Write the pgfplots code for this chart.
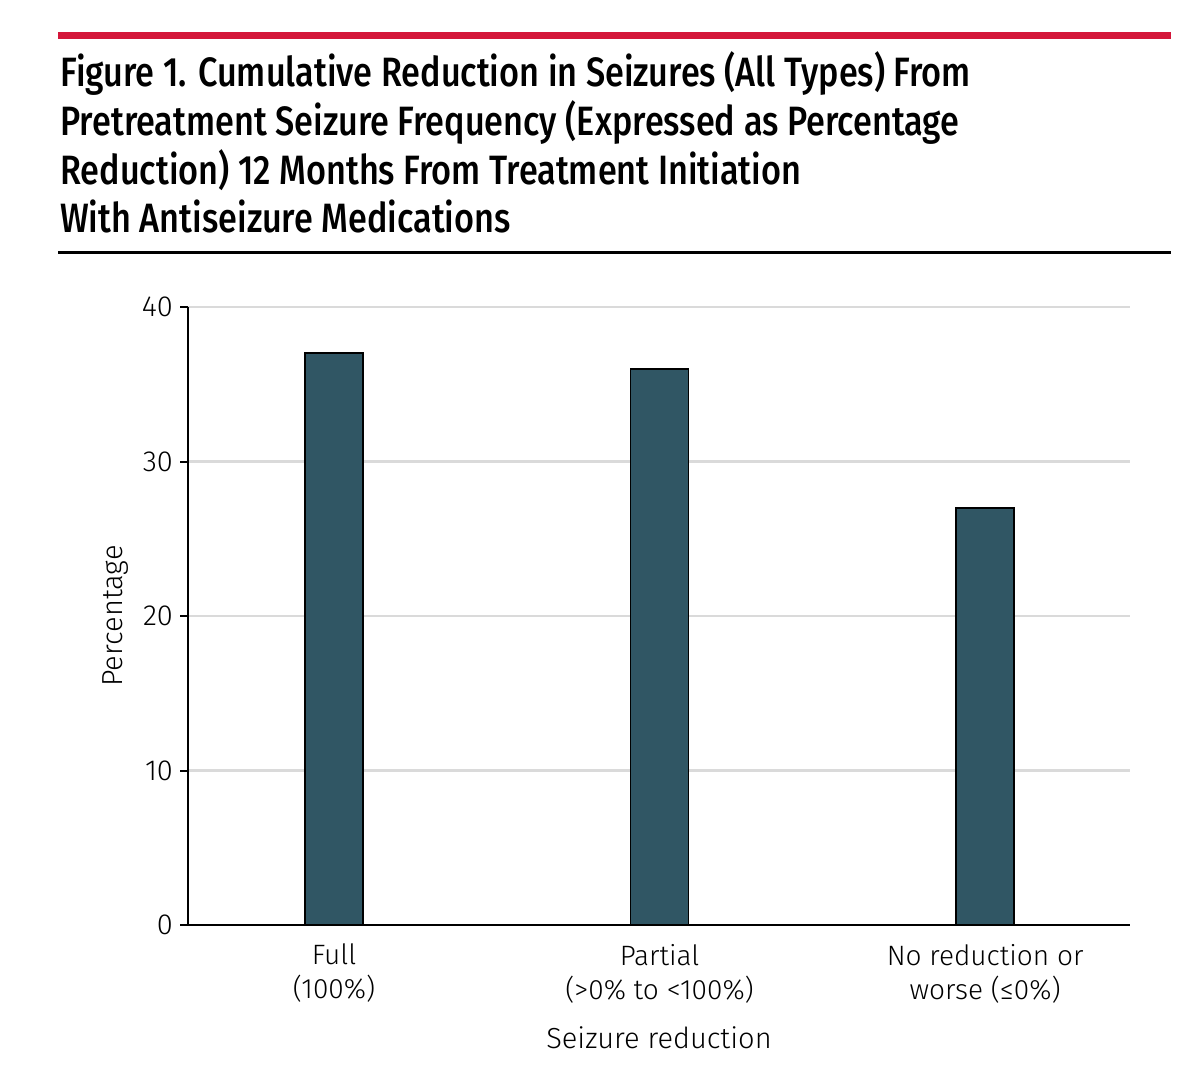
\documentclass[border=0pt]{standalone}
\usepackage{pgfplots}
\pgfplotsset{compat=1.18}
\usepackage{fontspec}
\setmainfont{Fira Sans Light}
\newfontfamily\titlefont{Fira Sans Medium}
\definecolor{barc}{HTML}{305664}
\definecolor{jred}{HTML}{D4163A}
\definecolor{gridc}{HTML}{DADADA}
\begin{document}
\begin{tikzpicture}
\path[use as bounding box] (0pt,0pt) rectangle (600pt,536pt);
\fill[jred] (29pt,516.25pt) rectangle (585.5pt,519.75pt);
\fill[black] (29pt,408.75pt) rectangle (585.5pt,410.25pt);
\node[anchor=base west, inner sep=0pt, xscale=0.835, font=\fontsize{20.5}{24.4}\selectfont\titlefont, align=left] at (30pt,419.5pt)
 {Figure 1. Cumulative Reduction in Seizures (All Types) From\\Pretreatment Seizure Frequency (Expressed as Percentage\\Reduction) 12 Months From Treatment Initiation\\With Antiseizure Medications};
\begin{axis}[
  at={(94pt,73.5pt)}, anchor=south west,
  width=471pt, height=309pt, scale only axis,
  xmin=-0.4485, xmax=2.445, ymin=0, ymax=40,
  axis lines*=left,
  axis line style={line width=1pt},
  ytick={0,10,20,30,40},
  ymajorgrids, grid style={gridc, line width=1.1pt},
  y tick style={black, line width=1pt},
  tick align=outside, major tick length=4pt,
  xtick={0,1,2}, x tick style={draw=none},
  xticklabels={{Full\\(100\%)},{Partial\\(>0\% to <100\%)},{No reduction or\\worse (≤0\%)}},
  xticklabel style={align=center, font=\fontsize{14}{17}\selectfont, yshift=-2pt},
  yticklabel style={font=\fontsize{14.5}{17}\selectfont},
  /pgf/number format/assume math mode=true,
  xlabel={Seizure reduction}, ylabel={Percentage},
  xlabel style={font=\fontsize{14.5}{17}\selectfont, yshift=-5pt},
  ylabel style={font=\fontsize{14.5}{17}\selectfont},
  ybar, bar width=29pt,
  clip=false,
]
\addplot[fill=barc, draw=black, line width=0.9pt] coordinates {(0,37) (1,36) (2,27)};
\end{axis}
\end{tikzpicture}
\end{document}
